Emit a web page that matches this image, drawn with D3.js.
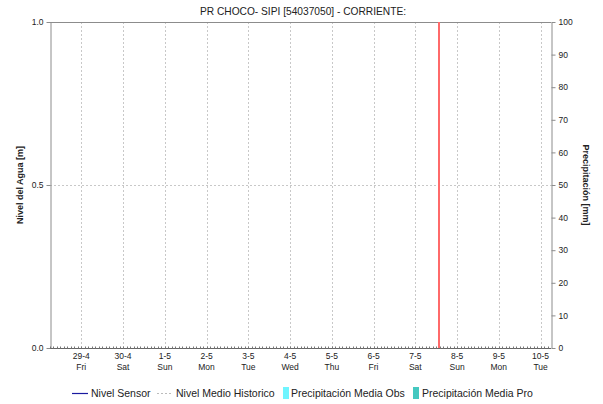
<!DOCTYPE html>
<html><head><meta charset="utf-8">
<script src="https://cdn.jsdelivr.net/npm/d3@7"></script>
<style>body{margin:0;background:#fff}svg{display:block;font-family:"Liberation Sans",Arial,sans-serif}</style>
</head><body><svg id="c" width="603" height="404"></svg>
<script>
const title = "PR CHOCO- SIPI [54037050] - CORRIENTE:";
const dayLabels = ["29-4","30-4","1-5","2-5","3-5","4-5","5-5","6-5","7-5","8-5","9-5","10-5"];
const weekdayLabels = ["Fri","Sat","Sun","Mon","Tue","Wed","Thu","Fri","Sat","Sun","Mon","Tue"];
const tickDates = ["2022-04-29T12:00","2022-04-30T12:00","2022-05-01T12:00","2022-05-02T12:00","2022-05-03T12:00","2022-05-04T12:00","2022-05-05T12:00","2022-05-06T12:00","2022-05-07T12:00","2022-05-08T12:00","2022-05-09T12:00","2022-05-10T12:00"];
const timeDomain = ["2022-04-28T18:00","2022-05-10T18:00"];
const nowMark = "2022-05-08T01:30";
const levelTicks = [0,0.5,1.0];
const precipTicks = [0,10,20,30,40,50,60,70,80,90,100];
const legendItems = ["Nivel Sensor","Nivel Medio Historico","Precipitación Media Obs","Precipitación Media Pro"];

const svg = d3.select("#c");
const m = {l:50, r:52, t:22, b:56};
const W = 603, H = 404;
const pw = W-m.l-m.r, ph = H-m.t-m.b;
const x = d3.scaleTime().domain(timeDomain.map(d=>new Date(d))).range([m.l, m.l+pw]);
const yL = d3.scaleLinear().domain([0,1]).range([m.t+ph, m.t]);
const yR = d3.scaleLinear().domain([0,100]).range([m.t+ph, m.t]);
const axisCol = "#8c8c8c", gridCol = "#c8c8c8";

// grid
const g = svg.append("g");
tickDates.forEach(d=>{
  const xx = Math.round(x(new Date(d)))+0.5;
  g.append("line").attr("x1",xx).attr("x2",xx).attr("y1",m.t).attr("y2",m.t+ph)
   .attr("stroke",gridCol).attr("stroke-dasharray","2,2");
});
g.append("line").attr("x1",m.l).attr("x2",m.l+pw).attr("y1",Math.round(yL(0.5))+0.5).attr("y2",Math.round(yL(0.5))+0.5)
 .attr("stroke",gridCol).attr("stroke-dasharray","2,2");

// top border
svg.append("line").attr("x1",m.l).attr("x2",m.l+pw).attr("y1",m.t+0.5).attr("y2",m.t+0.5).attr("stroke",axisCol);

// left axis
const la = svg.append("g").attr("transform",`translate(${m.l+0.5},0)`)
 .call(d3.axisLeft(yL).tickValues(levelTicks).tickFormat(d3.format(".1f")).tickSize(4).tickSizeOuter(0));
// right axis
const ra = svg.append("g").attr("transform",`translate(${m.l+pw+0.5},0)`)
 .call(d3.axisRight(yR).tickValues(precipTicks).tickSize(4).tickSizeOuter(0));
[la,ra].forEach(a=>{
  a.selectAll("path,line").attr("stroke",axisCol);
  a.selectAll("text").attr("font-size",8.5).attr("fill","#222").attr("font-family","'Liberation Sans',Arial,sans-serif");
});

// bottom axis with minor ticks
const xb = svg.append("g").attr("transform",`translate(0,${m.t+ph+0.5})`);
xb.append("line").attr("x1",m.l).attr("x2",m.l+pw).attr("stroke","#666");
const hours = d3.timeHour.every(2).range(x.domain()[0], x.domain()[1]);
xb.selectAll("line.minor").data(hours).join("line").attr("class","minor")
 .attr("x1",d=>Math.round(x(d))+0.5).attr("x2",d=>Math.round(x(d))+0.5).attr("y1",0).attr("y2",-2).attr("stroke","#777");
tickDates.forEach((d,i)=>{
  const xx = x(new Date(d));
  xb.append("text").attr("x",xx).attr("y",10).attr("text-anchor","middle").attr("font-size",8.5).attr("fill","#222").text(dayLabels[i]);
  xb.append("text").attr("x",xx).attr("y",21).attr("text-anchor","middle").attr("font-size",8.5).attr("fill","#222").text(weekdayLabels[i]);
});

// now line
let nx = Math.round(x(new Date(nowMark)));
if (nx % 2 === 0) nx += 1;
svg.append("line").attr("x1",nx).attr("x2",nx).attr("y1",m.t).attr("y2",m.t+ph).attr("stroke","#ff6a6a").attr("stroke-width",2);

// title
svg.append("text").attr("x",303).attr("y",15).attr("text-anchor","middle").attr("font-size",10.2).attr("fill","#222").text(title);

// axis titles
svg.append("text").attr("transform",`translate(23,${m.t+ph/2}) rotate(-90)`).attr("text-anchor","middle")
 .attr("font-size",9).attr("font-weight","bold").attr("fill","#222").text("Nivel del Agua [m]");
svg.append("text").attr("transform",`translate(583,${m.t+ph/2}) rotate(90)`).attr("text-anchor","middle")
 .attr("font-size",9).attr("font-weight","bold").attr("fill","#222").text("Precipitación [mm]");

// legend
const ly = 393;
const lg = svg.append("g").attr("font-size",10.5).attr("fill","#222");
lg.append("line").attr("x1",72).attr("x2",88).attr("y1",ly+0.5).attr("y2",ly+0.5).attr("stroke","#1a1aa0").attr("stroke-width",1.2);
lg.append("text").attr("x",91).attr("y",ly+4).text(legendItems[0]);
lg.append("line").attr("x1",157).attr("x2",172).attr("y1",ly+0.5).attr("y2",ly+0.5).attr("stroke","#bbb").attr("stroke-dasharray","2,2");
lg.append("text").attr("x",176).attr("y",ly+4).text(legendItems[1]);
lg.append("rect").attr("x",283).attr("y",ly-6).attr("width",6).attr("height",12).attr("fill","#6ff5ff");
lg.append("text").attr("x",291).attr("y",ly+4).text(legendItems[2]);
lg.append("rect").attr("x",413).attr("y",ly-6).attr("width",6).attr("height",12).attr("fill","#44c8c0");
lg.append("text").attr("x",422).attr("y",ly+4).text(legendItems[3]);
</script></body></html>
